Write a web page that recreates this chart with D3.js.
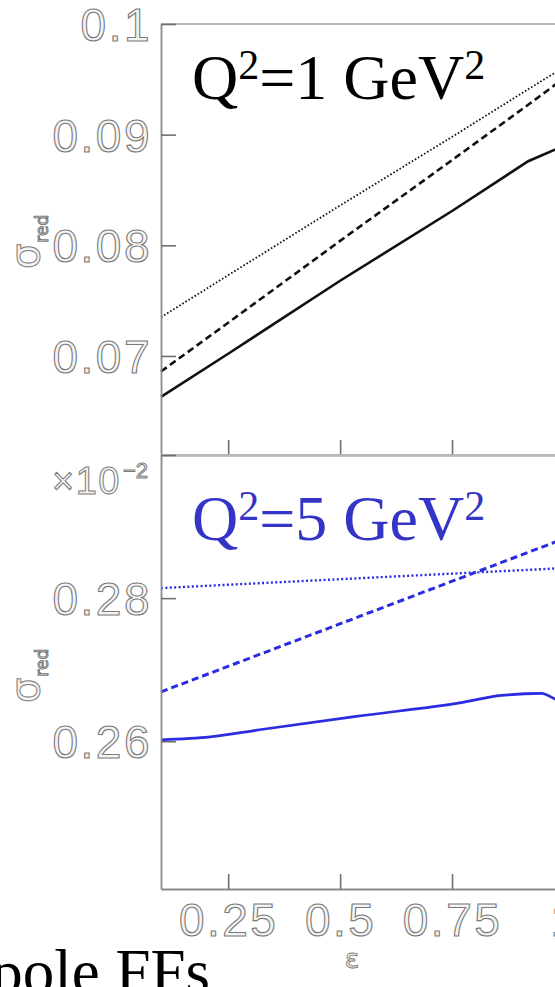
<!DOCTYPE html>
<html>
<head>
<meta charset="utf-8">
<script src="https://cdn.jsdelivr.net/npm/d3@7"></script>
<style>
  html, body { margin: 0; padding: 0; background: #fff; }
  svg { display: block; }
  .tick text { font-family: "Liberation Sans", Arial, sans-serif; }
</style>
</head>
<body>
<div id="chart"></div>
<script>
// epsilon grid for each curve
const epsTop = [0.1, 0.25, 0.5, 0.75, 0.92, 1.0];
const solidQ1 = [0.0663, 0.0702, 0.0768, 0.0831, 0.0876, 0.0890];
const dashedQ1 = [0.0686, 0.0730, 0.0804, 0.0877, 0.0927, 0.0951];
const dottedQ1 = [0.0735, 0.0773, 0.0836, 0.0898, 0.0941, 0.0961];

const epsBottom = [0.1, 0.21, 0.32, 0.54, 0.77, 0.86, 0.95, 0.98, 1.0];
const solidQ5 = [0.2602, 0.2606, 0.2616, 0.2635, 0.2654, 0.2664, 0.2667, 0.2659, 0.2654];
const epsLin = [0.1, 1.0];
const dashedQ5 = [0.2669, 0.2883];
const dottedQ5 = [0.2814, 0.2842];

const xTicks = [0.25, 0.5, 0.75, 1];
const yTicksTop = [0.07, 0.08, 0.09, 0.1];
const yLabelsTop = ["0.07", "0.08", "0.09", "0.1"];
const yTicksBottom = [0.26, 0.28, 0.30];
const yLabelsBottom = ["0.26", "0.28", ""];

const W = 555, H = 987;
const left = 161, right = 564;
const axisGrey = "#8a8a8a", labelGrey = "#7a7a7a", labelFill = "#f4f4f4";
const blue = "#2b2be0", blueText = "#3434c6";

const svg = d3.select("#chart").append("svg")
    .attr("width", W)
    .attr("height", H);

const x = d3.scaleLinear().domain([0.1, 1.0]).range([left, right]);

const panels = [
    {top: 24, bottom: 455, domain: [0.06105, 0.1], ticks: yTicksTop, labels: yLabelsTop,
     color: "#111", showX: false,
     series: [
        {eps: epsTop, vals: solidQ1, dash: null, w: 2.6, curve: d3.curveLinear},
        {eps: epsTop, vals: dashedQ1, dash: "7,4", w: 2.6, curve: d3.curveLinear},
        {eps: epsTop, vals: dottedQ1, dash: "1.6,2", w: 1.8, curve: d3.curveLinear}
     ]},
    {top: 455, bottom: 889, domain: [0.23935, 0.30], ticks: yTicksBottom, labels: yLabelsBottom,
     color: blue, showX: true,
     series: [
        {eps: epsBottom, vals: solidQ5, dash: null, w: 2.7, curve: d3.curveMonotoneX},
        {eps: epsLin, vals: dashedQ5, dash: "7,4", w: 3, curve: d3.curveLinear},
        {eps: epsLin, vals: dottedQ5, dash: "2,2.4", w: 2.4, curve: d3.curveLinear}
     ]}
];

panels.forEach(p => {
    const y = d3.scaleLinear().domain(p.domain).range([p.bottom, p.top]);
    const g = svg.append("g");

    // frame top line
    g.append("line")
        .attr("x1", left).attr("x2", W)
        .attr("y1", p.top).attr("y2", p.top)
        .attr("stroke", "#b8b8b8").attr("stroke-width", 2);

    // curves
    p.series.forEach(s => {
        const line = d3.line()
            .x((d, i) => x(s.eps[i]))
            .y(d => y(d))
            .curve(s.curve);
        g.append("path")
            .datum(s.vals)
            .attr("d", line)
            .attr("fill", "none")
            .attr("stroke", p.color)
            .attr("stroke-width", s.w)
            .attr("stroke-dasharray", s.dash);
    });

    // y axis
    const yAxis = g.append("g")
        .attr("transform", "translate(" + left + ",0)")
        .call(d3.axisLeft(y)
            .tickValues(p.ticks)
            .tickFormat((d, i) => p.labels[i])
            .tickSize(-15)
            .tickSizeOuter(0)
            .tickPadding(9));

    // x axis
    const xAxis = g.append("g")
        .attr("transform", "translate(0," + p.bottom + ")")
        .call(d3.axisBottom(x)
            .tickValues(xTicks)
            .tickFormat(p.showX ? (d => String(d)) : "")
            .tickSize(-15)
            .tickSizeOuter(0)
            .tickPadding(14));

    [yAxis, xAxis].forEach(a => {
        a.select(".domain").attr("stroke", axisGrey).attr("stroke-width", 1.8);
        a.selectAll(".tick line").attr("stroke", "#707070").attr("stroke-width", 1.6);
        a.selectAll(".tick text")
            .attr("font-size", 46)
            .attr("letter-spacing", 2.5)
            .attr("fill", labelFill)
            .attr("stroke", labelGrey)
            .attr("stroke-width", 1.1);
    });
    yAxis.selectAll(".tick text").attr("dy", "0.36em");
});

// y axis titles (sigma_red)
[{tx: 39, ty: 269}, {tx: 39, ty: 703}].forEach(t => {
    const lab = svg.append("text")
        .attr("transform", "translate(" + t.tx + "," + t.ty + ") rotate(-90)")
        .attr("font-family", "DejaVu Sans, sans-serif")
        .attr("fill", labelFill)
        .attr("stroke", labelGrey)
        .attr("stroke-width", 1);
    lab.append("tspan").attr("font-size", 40).text("σ");
    lab.append("tspan").attr("font-size", 17).attr("dy", 9).attr("dx", 1).text("red");
});

// exponent marker on lower panel
const expo = svg.append("text")
    .attr("x", 52).attr("y", 494)
    .attr("font-family", "Liberation Sans, Arial, sans-serif")
    .attr("fill", labelFill)
    .attr("stroke", labelGrey)
    .attr("stroke-width", 1);
expo.append("tspan").attr("font-size", 38).attr("letter-spacing", 1.5).text("×10");
expo.append("tspan").attr("font-size", 22).attr("dy", -16).attr("dx", 2).text("−2");

// panel titles
function qLabel(xp, yp, num, color) {
    const t = svg.append("text")
        .attr("x", xp).attr("y", yp)
        .attr("font-family", "Liberation Serif, Times New Roman, serif")
        .attr("font-size", 64)
        .attr("fill", color);
    t.append("tspan").text("Q");
    t.append("tspan").attr("font-size", 42).attr("dy", -20).text("2");
    t.append("tspan").attr("dy", 20).text("=" + num + " GeV");
    t.append("tspan").attr("font-size", 42).attr("dy", -20).text("2");
}
qLabel(192, 99, "1", "#000");
qLabel(192, 540, "5", blueText);

// x axis title
svg.append("text")
    .attr("x", 352).attr("y", 968)
    .attr("text-anchor", "middle")
    .attr("font-family", "DejaVu Sans, sans-serif")
    .attr("font-size", 27)
    .attr("fill", labelFill)
    .attr("stroke", labelGrey)
    .attr("stroke-width", 0.9)
    .text("ε");

// slide caption fragment
svg.append("text")
    .attr("x", 210).attr("y", 993)
    .attr("text-anchor", "end")
    .attr("font-family", "Liberation Serif, Times New Roman, serif")
    .attr("font-size", 63)
    .attr("fill", "#000")
    .text("pole FFs");
</script>
</body>
</html>
